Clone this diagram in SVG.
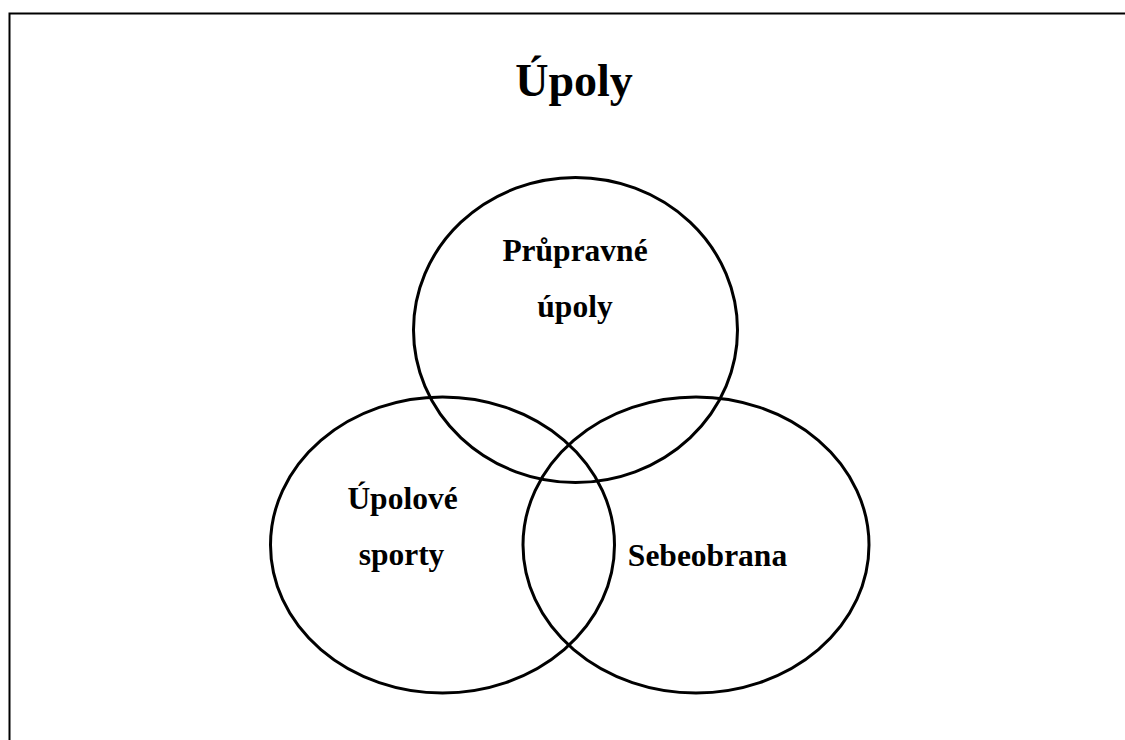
<svg xmlns="http://www.w3.org/2000/svg" width="1125" height="740" viewBox="0 0 1125 740">
<style>
.c{fill:none;stroke:#000;stroke-width:3}
.t{font-family:"Liberation Serif","Times New Roman",serif;font-weight:bold;fill:#000;text-anchor:middle}
.l{font-size:31.5px}
</style>
<rect width="1125" height="740" fill="#fff"/>
<path d="M9.5,740 V13.5 H1125" fill="none" stroke="#000" stroke-width="2"/>
<text class="t" x="574" y="96" font-size="46">Úpoly</text>
<g id="connectors"></g>
<g id="node-prupravne">
<ellipse class="c" cx="575.5" cy="330" rx="162" ry="152.5"/>
<text class="t l" x="575" y="261">Průpravné</text>
<text class="t l" x="575" y="317">úpoly</text>
</g>
<g id="node-upolove">
<ellipse class="c" cx="442.5" cy="545" rx="172" ry="148"/>
<text class="t l" x="402.5" y="509">Úpolové</text>
<text class="t l" x="401.5" y="565">sporty</text>
</g>
<g id="node-sebeobrana">
<ellipse class="c" cx="696" cy="545" rx="173" ry="148"/>
<text class="t l" x="707.5" y="566">Sebeobrana</text>
</g>
</svg>
